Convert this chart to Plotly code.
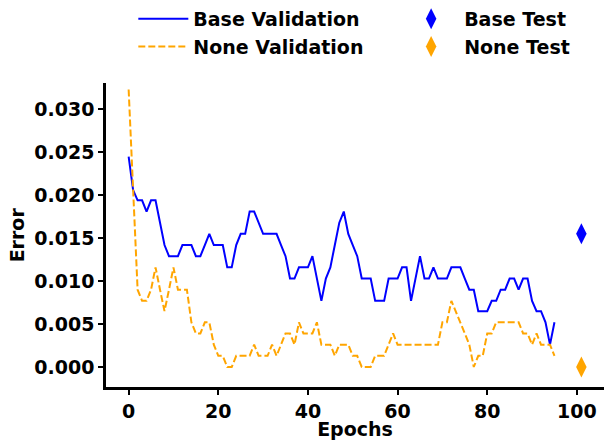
import plotly.graph_objects as go

epochs = list(range(96))

base_validation = [
    0.0245, 0.0206, 0.0194, 0.0194, 0.0181, 0.0194, 0.0194, 0.0168, 0.0142, 0.0129,
    0.0129, 0.0129, 0.0142, 0.0142, 0.0142, 0.0129, 0.0129, 0.0142, 0.0155, 0.0142,
    0.0142, 0.0142, 0.0116, 0.0116, 0.0142, 0.0155, 0.0155, 0.0181, 0.0181, 0.0168,
    0.0155, 0.0155, 0.0155, 0.0155, 0.0142, 0.0129, 0.0103, 0.0103, 0.0116, 0.0116,
    0.0116, 0.0129, 0.0103, 0.0077, 0.0103, 0.0116, 0.0142, 0.0168, 0.0181, 0.0155,
    0.0142, 0.0129, 0.0103, 0.0103, 0.0103, 0.0077, 0.0077, 0.0077, 0.0103, 0.0103,
    0.0103, 0.0116, 0.0116, 0.0077, 0.0103, 0.0129, 0.0103, 0.0103, 0.0116, 0.0103,
    0.0103, 0.0103, 0.0116, 0.0116, 0.0116, 0.0103, 0.0090, 0.0090, 0.0065, 0.0065,
    0.0065, 0.0077, 0.0077, 0.0090, 0.0090, 0.0103, 0.0103, 0.0090, 0.0103, 0.0103,
    0.0077, 0.0065, 0.0065, 0.0052, 0.0026, 0.0052,
]

none_validation = [
    0.0323, 0.0206, 0.0090, 0.0077, 0.0077, 0.0090, 0.0116, 0.0090, 0.0065, 0.0090,
    0.0116, 0.0090, 0.0090, 0.0090, 0.0052, 0.0039, 0.0039, 0.0052, 0.0052, 0.0026,
    0.0013, 0.0013, 0.0000, 0.0000, 0.0013, 0.0013, 0.0013, 0.0013, 0.0026, 0.0013,
    0.0013, 0.0013, 0.0026, 0.0013, 0.0026, 0.0039, 0.0039, 0.0026, 0.0052, 0.0039,
    0.0039, 0.0039, 0.0052, 0.0026, 0.0026, 0.0026, 0.0013, 0.0026, 0.0026, 0.0026,
    0.0013, 0.0013, 0.0000, 0.0000, 0.0000, 0.0013, 0.0013, 0.0013, 0.0026, 0.0039,
    0.0026, 0.0026, 0.0026, 0.0026, 0.0026, 0.0026, 0.0026, 0.0026, 0.0026, 0.0026,
    0.0052, 0.0052, 0.0077, 0.0065, 0.0052, 0.0039, 0.0026, 0.0000, 0.0013, 0.0013,
    0.0039, 0.0039, 0.0052, 0.0052, 0.0052, 0.0052, 0.0052, 0.0052, 0.0039, 0.0039,
    0.0026, 0.0039, 0.0026, 0.0026, 0.0026, 0.0013,
]

test_epoch = [101]
base_test = [0.0155]
none_test = [0.0]

x_ticks = [0, 20, 40, 60, 80, 100]
y_ticks = [0.000, 0.005, 0.010, 0.015, 0.020, 0.025, 0.030]
y_tick_labels = ["0.000", "0.005", "0.010", "0.015", "0.020", "0.025", "0.030"]

FONT = "DejaVu Sans"
FS = 19

fig = go.Figure()
fig.add_trace(go.Scatter(
    x=epochs, y=base_validation, mode="lines", name="Base Validation",
    line=dict(color="blue", width=2), legend="legend"))
fig.add_trace(go.Scatter(
    x=epochs, y=none_validation, mode="lines", name="None Validation",
    line=dict(color="orange", width=2, dash="7px,3px"), legend="legend"))
fig.add_trace(go.Scatter(
    x=test_epoch, y=base_test, mode="markers", name="Base Test",
    marker=dict(color="blue", symbol="diamond-tall", size=15, line=dict(width=0)),
    legend="legend2"))
fig.add_trace(go.Scatter(
    x=test_epoch, y=none_test, mode="markers", name="None Test",
    marker=dict(color="orange", symbol="diamond-tall", size=15, line=dict(width=0)),
    legend="legend2"))

axis_common = dict(
    showline=True, linecolor="black", linewidth=2.5,
    ticks="outside", ticklen=5, tickwidth=2, tickcolor="black",
    showgrid=False, zeroline=False, automargin=False,
    tickfont=dict(family=FONT, size=FS, color="black", weight="bold"),
    mirror=False,
)

fig.update_layout(
    width=606, height=440,
    margin=dict(l=106, r=2, t=83, b=53, autoexpand=False),
    paper_bgcolor="white", plot_bgcolor="white",
    font=dict(family=FONT, size=FS, color="black", weight="bold"),
    xaxis=dict(
        range=[-5.05, 106.05], tickvals=x_ticks,
        title=dict(text="Epochs", font=dict(family=FONT, size=FS, weight="bold"), standoff=4),
        **axis_common),
    yaxis=dict(
        range=[-0.00233, 0.03306], tickvals=y_ticks, ticktext=y_tick_labels,
        **axis_common),
    legend=dict(
        xref="container", yref="container", x=0.22, y=1.0,
        xanchor="left", yanchor="top", orientation="v",
        bgcolor="rgba(0,0,0,0)", itemwidth=50, tracegroupgap=0,
        font=dict(family=FONT, size=FS, weight="bold")),
    legend2=dict(
        xref="container", yref="container", x=0.657, y=1.0,
        xanchor="left", yanchor="top", orientation="v",
        bgcolor="rgba(0,0,0,0)", itemwidth=56, tracegroupgap=0,
        font=dict(family=FONT, size=FS, weight="bold")),
    showlegend=True,
    annotations=[dict(
        text="Error", xref="paper", yref="paper", x=-0.178, y=0.5,
        xanchor="center", yanchor="middle", textangle=-90, showarrow=False,
        font=dict(family=FONT, size=FS, color="black", weight="bold"))],
)

fig.write_html("out.html")
